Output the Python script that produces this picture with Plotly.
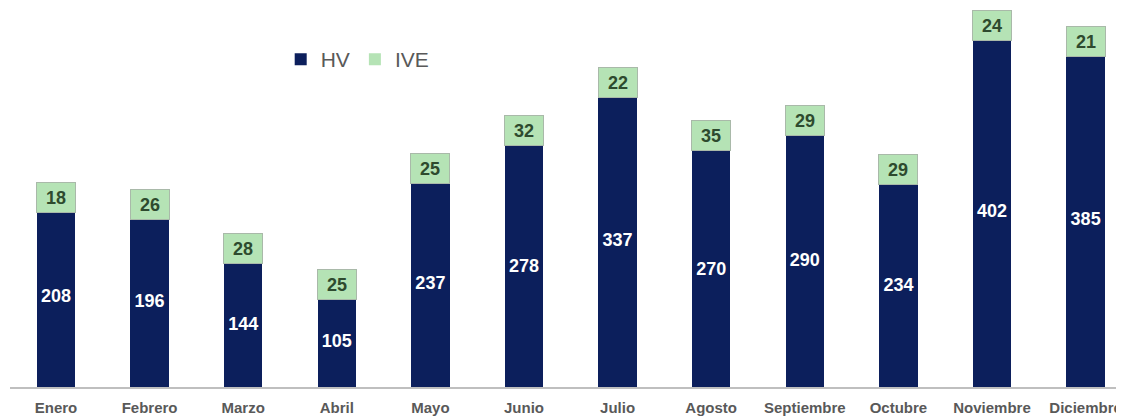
import plotly.graph_objects as go

months = ["Enero", "Febrero", "Marzo", "Abril", "Mayo", "Junio", "Julio",
          "Agosto", "Septiembre", "Octubre", "Noviembre", "Diciembre"]
hv = [208, 196, 144, 105, 237, 278, 337, 270, 290, 234, 402, 385]
ive = [18, 26, 28, 25, 25, 32, 22, 35, 29, 29, 24, 21]

NAVY = "#0c1f5c"
GREEN = "#b5e3b5"
FONT = "Liberation Sans, Arial"

fig = go.Figure()
fig.add_trace(go.Bar(
    x=months, y=hv, name="HV", marker_color=NAVY, marker_line_width=0,
    text=hv, texttemplate="<b>%{text}</b>", textposition="inside",
    insidetextanchor="middle",
    textfont=dict(color="white", size=18, family=FONT),
    textangle=0,
))
fig.add_trace(go.Bar(
    x=months, y=ive, name="IVE", marker_color=GREEN, marker_line_width=0,
    hoverinfo="y",
))

for m, h, v in zip(months, hv, ive):
    fig.add_annotation(
        x=m, y=h + v / 2, text=f"<b>{v}</b>", showarrow=False,
        xanchor="center", yanchor="middle", width=38, height=29,
        bgcolor=GREEN, bordercolor="#a9b9a9", borderwidth=1, borderpad=0,
        font=dict(size=18, color="#2e4a2e", family=FONT),
    )

fig.update_layout(
    barmode="stack",
    bargap=0.59,
    width=1116, height=409,
    margin=dict(l=2, r=0, t=0, b=30),
    plot_bgcolor="white", paper_bgcolor="white",
    showlegend=True,
    legend=dict(orientation="h", x=0.243, y=0.918, xanchor="left", yanchor="top",
                traceorder="normal",
                font=dict(size=21, color="#595959", family=FONT),
                itemwidth=30, bgcolor="rgba(0,0,0,0)"),
    font=dict(family=FONT),
    uniformtext=dict(minsize=18, mode="show"),
)
fig.update_xaxes(
    range=[-0.491, 11.41], showline=True, linecolor="#bfbfbf", linewidth=2,
    ticks="", ticklabelstandoff=6,
    tickfont=dict(size=15, color="#595959", family=FONT),
    tickprefix="<b>", ticksuffix="</b>", showgrid=False,
)
fig.update_yaxes(range=[0, 433.6], visible=False, showgrid=False)

fig.write_html("out.html")
